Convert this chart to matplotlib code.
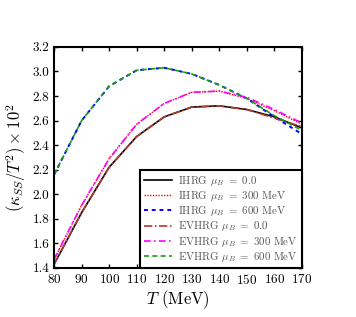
import numpy as np
import matplotlib
matplotlib.use("Agg")
import matplotlib.pyplot as plt

plt.rcParams['font.family'] = 'serif'
plt.rcParams['font.serif'] = ['cmr10', 'DejaVu Serif']
plt.rcParams['mathtext.fontset'] = 'cm'
plt.rcParams['axes.formatter.use_mathtext'] = True

# ==============================
# DATA
# ==============================
T = [80, 90, 100, 110, 120, 130, 140, 150, 160, 170]

ihrg_0 = [1.43, 1.85, 2.22, 2.47, 2.63, 2.71, 2.72, 2.69, 2.63, 2.54]
ihrg_300 = [1.47, 1.91, 2.29, 2.57, 2.74, 2.83, 2.84, 2.78, 2.68, 2.57]
ihrg_600 = [2.16, 2.60, 2.88, 3.01, 3.03, 2.98, 2.89, 2.78, 2.63, 2.49]
evhrg_0 = [1.43, 1.85, 2.22, 2.47, 2.63, 2.71, 2.72, 2.69, 2.62, 2.55]
evhrg_300 = [1.47, 1.91, 2.29, 2.57, 2.74, 2.83, 2.84, 2.79, 2.69, 2.58]
evhrg_600 = [2.16, 2.60, 2.88, 3.01, 3.03, 2.98, 2.89, 2.78, 2.64, 2.52]

labels = [r"IHRG $\mu_B\ =\ 0.0$",
          r"IHRG $\mu_B\ =\ 300$ MeV",
          r"IHRG $\mu_B\ =\ 600$ MeV",
          r"EVHRG $\mu_B\ =\ 0.0$",
          r"EVHRG $\mu_B\ =\ 300$ MeV",
          r"EVHRG $\mu_B\ =\ 600$ MeV"]

# ==============================
# PLOT
# ==============================
fig = plt.figure(figsize=(3.56, 3.17), dpi=100)
ax = fig.add_axes([0.152, 0.155, 0.696, 0.697])

ax.plot(T, ihrg_0, color='black', lw=1.2, ls='-', label=labels[0])
ax.plot(T, ihrg_300, color='red', lw=1.0, ls=(0, (1, 1)), label=labels[1])
ax.plot(T, ihrg_600, color='blue', lw=1.4, ls=(0, (2, 2)), label=labels[2])
ax.plot(T, evhrg_0, color='#b03a2e', lw=1.2, ls=(0, (5, 1.5, 1, 1.5)), label=labels[3])
ax.plot(T, evhrg_300, color='magenta', lw=1.2, ls=(0, (4, 2, 1, 2)), label=labels[4])
ax.plot(T, evhrg_600, color='#1a9a1a', lw=1.2, ls=(0, (3, 2)), label=labels[5])

ax.set_xlim(80, 170)
ax.set_ylim(1.4, 3.2)
ax.set_xticks(np.arange(80, 171, 10))
ax.set_yticks(np.arange(1.4, 3.21, 0.2))
ax.yaxis.set_major_formatter(matplotlib.ticker.FormatStrFormatter('%.1f'))
ax.tick_params(direction='in', top=True, right=True, length=3, width=1,
               labelsize=9.5)
for s in ax.spines.values():
    s.set_linewidth(1.5)

ax.set_xlabel(r"$T$ (MeV)", fontsize=12, labelpad=1)
ax.set_ylabel(r"$(\kappa_{SS}/T^2)\times 10^2$", fontsize=12, labelpad=3)

leg = ax.legend(loc='lower right', bbox_to_anchor=(1.0, 0.0), borderaxespad=0,
                fontsize=7.8, frameon=True, fancybox=False, framealpha=1,
                edgecolor='black', handlelength=2.6, labelspacing=0.12,
                borderpad=0.35, handletextpad=0.6)
leg.get_frame().set_linewidth(1.5)
for t in leg.get_texts():
    t.set_color('#555555')

fig.savefig("out.png", dpi=100)
